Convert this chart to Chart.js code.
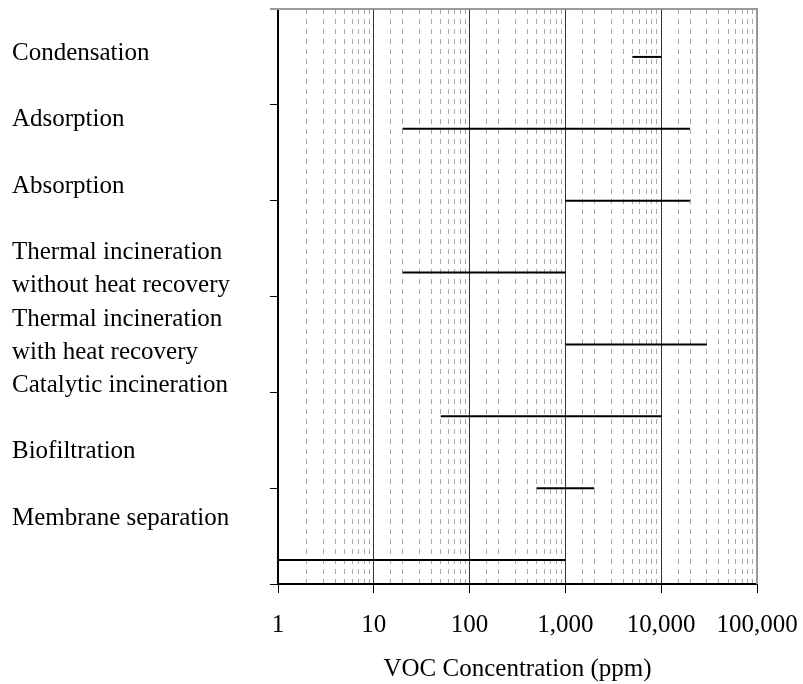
<!DOCTYPE html>
<html lang="en">
  <head>
    <meta charset="UTF-8" />
    <title>VOC control technologies</title>
    <script src="https://cdn.jsdelivr.net/npm/chart.js@4.4.1/dist/chart.umd.min.js"></script>
    <style>
      body {
        margin: 0;
        padding: 0;
        background: white;
      }
      .container {
        width: 803px;
        height: 684px;
      }
    </style>
  </head>
  <body>
    <div class="container">
      <canvas id="vocChart"></canvas>
    </div>
    <script>
      const methods = [
        'Condensation',
        'Adsorption',
        'Absorption',
        'Thermal incineration\nwithout heat recovery',
        'Thermal incineration\nwith heat recovery',
        'Catalytic incineration',
        'Biofiltration',
        'Membrane separation',
      ]
      const rangeLow = [5000, 20, 1000, 20, 1000, 50, 500, 1]
      const rangeHigh = [10000, 20000, 20000, 1000, 30000, 10000, 2000, 1000]
      const xTickLabels = [1, 10, 100, 1000, 10000, 100000]

      const FONT = "'Liberation Serif', 'Times New Roman', serif"
      const isDecade = (v) => xTickLabels.includes(v)

      // each method sits on its own row of a hidden 0..6 axis
      const rowOf = (i) => 5.5 - 0.75 * i

      const datasets = methods.map((name, i) => ({
        label: name,
        data: [
          { x: rangeLow[i], y: rowOf(i) },
          { x: rangeHigh[i], y: rowOf(i) },
        ],
        showLine: true,
        borderColor: '#000',
        borderWidth: 2,
        pointRadius: 0,
      }))

      const frameAndLabels = {
        id: 'frameAndLabels',
        afterDraw(chart) {
          const { ctx, chartArea } = chart
          ctx.save()
          ctx.strokeStyle = '#999'
          ctx.lineWidth = 2
          ctx.beginPath()
          ctx.moveTo(chartArea.left - 8, chartArea.top)
          ctx.lineTo(chartArea.right, chartArea.top)
          ctx.lineTo(chartArea.right, chartArea.bottom)
          ctx.stroke()

          // method names: a text block, two lines per method
          ctx.fillStyle = '#000'
          ctx.font = '25px ' + FONT
          ctx.textBaseline = 'alphabetic'
          ctx.textAlign = 'left'
          methods.forEach((name, i) => {
            name.split('\n').forEach((line, j) => {
              const y = chartArea.top + 51 + 33.2 * (2 * i + j)
              ctx.fillText(line, 12, y)
            })
          })
          ctx.restore()
        },
      }

      new Chart(document.getElementById('vocChart'), {
        type: 'scatter',
        data: { datasets },
        plugins: [frameAndLabels],
        options: {
          responsive: true,
          maintainAspectRatio: false,
          animation: false,
          layout: {
            padding: { left: 270, right: 46, top: 9, bottom: 0 },
          },
          plugins: {
            legend: { display: false },
            tooltip: { enabled: false },
          },
          scales: {
            x: {
              type: 'logarithmic',
              min: 1,
              max: 100000,
              afterFit: (scale) => {
                scale.paddingLeft = 0
                scale.paddingRight = 0
              },
              grid: {
                color: (c) => (c.tick && isDecade(c.tick.value) ? '#333' : '#a8a8a8'),
                lineWidth: 1,
                tickLength: 9,
                tickColor: (c) => (c.tick && isDecade(c.tick.value) ? '#000' : 'rgba(0,0,0,0)'),
              },
              border: {
                color: '#000',
                width: 2,
                dash: (c) => (c.tick && !isDecade(c.tick.value) ? [5, 5] : []),
              },
              ticks: {
                autoSkip: false,
                maxRotation: 0,
                minRotation: 0,
                padding: 17,
                color: '#000',
                font: { family: FONT, size: 25 },
                callback: (v) => (isDecade(v) ? v.toLocaleString('en-US') : ''),
              },
              title: {
                display: true,
                text: 'VOC Concentration (ppm)',
                color: '#000',
                font: { family: FONT, size: 25, lineHeight: 1 },
                padding: { top: 0, bottom: 2 },
              },
            },
            y: {
              type: 'linear',
              min: 0,
              max: 6,
              ticks: { display: false, stepSize: 1 },
              grid: {
                drawOnChartArea: false,
                tickLength: 8,
                tickColor: '#000',
              },
              border: { color: '#000', width: 2 },
            },
          },
        },
      })
    </script>
  </body>
</html>
